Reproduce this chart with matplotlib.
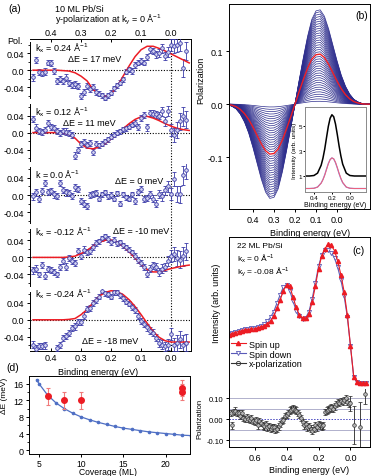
import matplotlib.pyplot as plt
import numpy as np

plt.rcParams['font.family'] = ['Liberation Sans', 'DejaVu Sans']
plt.rcParams['mathtext.default'] = 'regular'
plt.rcParams['font.size'] = 6.5
plt.rcParams['axes.linewidth'] = 0.7
for a in ('xtick', 'ytick'):
    plt.rcParams[a + '.major.width'] = 0.7
    plt.rcParams[a + '.minor.width'] = 0.6
    plt.rcParams[a + '.major.size'] = 2.5
    plt.rcParams[a + '.minor.size'] = 1.3
    plt.rcParams[a + '.major.pad'] = 1.5
    plt.rcParams[a + '.labelsize'] = 6.5

# ---------------- data ----------------
# (a) y-polarization, 10 ML Pb/Si, five k_x cuts
be_a = np.round(np.arange(0.46, -0.055, -0.01), 2)
pol_a1 = [-0.017, 0.024, -0.005, -0.007, -0.004, 0.018, 0.016, -0.002, -0.025, -0.020,
          -0.025, -0.018, -0.029, -0.035, -0.033, -0.038, -0.060, -0.051, -0.038, -0.045,
          -0.040, -0.051, -0.055, -0.059, -0.064, -0.059, -0.053, -0.042, -0.035, -0.029,
          -0.021, -0.004, 0.002, -0.002, 0.013, 0.018, 0.022, 0.018, 0.031, 0.049,
          0.045, 0.037, 0.041, 0.051, 0.033, 0.042, 0.060, 0.056, 0.060, 0.064,
          0.005, 0.045]
pol_a2 = [0.032, 0.011, 0.004, 0.002, 0.006, 0.022, 0.014, 0.010, 0.003, -0.002,
          0.004, 0.002, -0.002, -0.006, -0.054, -0.040, -0.026, -0.022, -0.030, -0.024,
          -0.046, -0.026, -0.030, -0.026, -0.020, -0.016, -0.010, -0.005, 0.000, 0.003,
          0.008, 0.010, 0.014, 0.018, 0.022, 0.014, 0.034, 0.042, 0.012, 0.046,
          0.044, 0.043, 0.040, 0.050, 0.026, 0.050, 0.006, -0.006, 0.006, 0.026,
          0.038, 0.030]
pol_a3 = [-0.003, 0.006, -0.009, 0.010, 0.028, 0.006, 0.009, 0.002, -0.003, 0.028,
          0.012, 0.006, 0.004, -0.003, 0.018, 0.015, -0.014, -0.020, -0.025, 0.000,
          0.002, 0.004, -0.009, 0.002, 0.006, -0.003, 0.000, -0.009, 0.004, -0.020,
          0.002, -0.005, -0.009, 0.002, -0.014, 0.006, 0.015, -0.009, -0.007, 0.002,
          -0.009, -0.020, 0.002, -0.003, 0.011, 0.020, 0.002, 0.037, 0.002, 0.002,
          0.046, 0.058]
pol_a4 = [-0.030, -0.026, -0.040, -0.018, -0.043, -0.026, -0.030, -0.034, -0.040, -0.022,
          -0.009, -0.022, -0.001, -0.009, -0.013, 0.016, 0.003, 0.018, 0.012, 0.016,
          0.024, 0.033, 0.038, 0.045, 0.049, 0.043, 0.035, 0.041, 0.033, 0.035,
          0.028, 0.024, 0.018, 0.012, 0.003, -0.005, -0.013, -0.022, -0.038, -0.026,
          -0.018, -0.022, -0.034, -0.026, -0.022, -0.009, 0.003, 0.008, -0.001, -0.005,
          0.003, 0.014]
pol_a5 = [-0.058, -0.068, -0.062, -0.062, -0.060, np.nan, np.nan, np.nan, -0.066, -0.058,
          -0.042, -0.038, -0.030, -0.020, -0.015, -0.004, -0.006, 0.010, 0.026, 0.028,
          0.040, 0.046, 0.054, 0.068, 0.062, 0.060, 0.054, 0.064, 0.064, 0.057,
          0.050, 0.042, 0.038, 0.030, 0.022, 0.010, -0.002, -0.010, -0.018, -0.026,
          -0.030, -0.042, -0.054, -0.058, -0.062, -0.058, -0.034, -0.058, -0.054, -0.046,
          -0.058, -0.054]
err_a = [0.008, 0.008, 0.007, 0.007, 0.008, 0.007, 0.007, 0.008, 0.007, 0.007,
         0.007, 0.008, 0.007, 0.007, 0.008, 0.007, 0.007, 0.008, 0.007, 0.007,
         0.007, 0.007, 0.006, 0.006, 0.006, 0.006, 0.006, 0.006, 0.006, 0.006,
         0.006, 0.006, 0.006, 0.006, 0.007, 0.007, 0.007, 0.007, 0.008, 0.008,
         0.008, 0.008, 0.009, 0.010, 0.010, 0.012, 0.014, 0.016, 0.018, 0.020,
         0.022, 0.020]
fit_be = np.round(np.arange(0.46, -0.065, -0.02), 2)
fit_a1 = [0, 0, 0, 0, 0, -0.001, -0.002, -0.006, -0.014, -0.025, -0.045, -0.057, -0.062,
          -0.055, -0.038, -0.014, 0.010, 0.032, 0.048, 0.056, 0.056, 0.051, 0.045, 0.038,
          0.031, 0.024, 0.017]
fit_a2 = [0, 0, 0, 0, 0, -0.001, -0.004, -0.013, -0.027, -0.036, -0.038, -0.034, -0.026,
          -0.015, -0.003, 0.009, 0.021, 0.031, 0.037, 0.038, 0.034, 0.028, 0.021, 0.015,
          0.010, 0.007, 0.005]
fit_a4 = [0, 0, 0, 0, 0, 0, 0.001, 0.003, 0.009, 0.016, 0.027, 0.035, 0.040, 0.041, 0.036,
          0.026, 0.013, -0.002, -0.017, -0.028, -0.034, -0.034, -0.030, -0.026, -0.023,
          -0.020, -0.018]
fit_a5 = [0, 0, 0, 0, 0, 0, 0.001, 0.003, 0.012, 0.024, 0.040, 0.055, 0.064, 0.068, 0.066,
          0.059, 0.047, 0.031, 0.012, -0.008, -0.027, -0.041, -0.049, -0.052, -0.052,
          -0.052, -0.052]
k_labels = ['k$_x$ = 0.24 Å$^{-1}$', 'k$_x$ = 0.12 Å$^{-1}$', 'k = 0.0 Å$^{-1}$',
            'k$_x$ = -0.12 Å$^{-1}$', 'k$_x$ = -0.24 Å$^{-1}$']
de_labels = ['ΔE = 17 meV', 'ΔE = 11 meV', 'ΔE = 0 meV', 'ΔE = -10 meV', 'ΔE = -18 meV']

# (b) model polarization curves
be_b = np.round(np.arange(0.56, -0.205, -0.02), 2)
pol_b_outer = [0, 0, -0.001, -0.004, -0.009, -0.019, -0.034, -0.055, -0.082, -0.112,
               -0.142, -0.166, -0.178, -0.176, -0.160, -0.128, -0.088, -0.045, 0.0,
               0.045, 0.088, 0.128, 0.160, 0.176, 0.178, 0.166, 0.142, 0.112, 0.082,
               0.055, 0.034, 0.019, 0.009, 0.004, 0.001, 0, 0, 0, 0]
scales_b = [0.03, 0.055, 0.08, 0.105, 0.13, 0.155, 0.18, 0.205, 0.23, 0.255, 0.28,
            0.305, 0.33, 0.355, 0.38, 0.405, 0.43, 0.455, 0.48, 0.505, 0.555, 0.58,
            0.605, 0.63, 0.655, 0.68, 0.705, 0.73, 0.755, 0.78, 0.805, 0.83, 0.855,
            0.88, 0.905, 0.93, 0.955, 0.98, 1.0]
scale_red = 0.53
be_in = [0.50, 0.45, 0.40, 0.36, 0.32, 0.30, 0.28, 0.26, 0.24, 0.22, 0.20, 0.18, 0.16,
         0.14, 0.12, 0.10, 0.08, 0.04, 0.0, -0.05, -0.10, -0.18]
up_in = [0, 0.001, 0.018, 0.11, 0.42, 0.70, 1.06, 1.52, 1.97, 2.30, 2.45, 2.38, 2.10,
         1.68, 1.22, 0.82, 0.49, 0.12, 0.02, 0, 0, 0]
dn_in = [0, 0.001, 0.02, 0.12, 0.44, 0.72, 1.10, 1.56, 2.00, 2.32, 2.45, 2.36, 2.06,
         1.64, 1.18, 0.78, 0.46, 0.11, 0.02, 0, 0, 0]
tot_in = [1.0, 1.0, 1.04, 1.23, 1.86, 2.42, 3.16, 4.08, 4.97, 5.62, 5.90, 5.74, 5.16,
          4.32, 3.40, 2.60, 1.95, 1.23, 1.04, 1.0, 1.0, 1.0]

# (c) 22 ML Pb/Si spin-resolved spectra
be_c = np.round(np.arange(0.76, -0.105, -0.02), 2)
up_c = [0.535, 0.540, 0.545, 0.550, 0.553, 0.556, 0.558, 0.560, 0.563, 0.566,
        0.570, 0.576, 0.586, 0.600, 0.625, 0.660, 0.700, 0.745, 0.772, 0.765,
        0.715, 0.665, 0.630, 0.613, 0.612, 0.635, 0.690, 0.765, 0.850, 0.910,
        0.945, 0.965, 0.960, 0.935, 0.885, 0.820, 0.740, 0.630, 0.480, 0.335,
        0.310, 0.305, 0.303, 0.303]
dn_c = [0.540, 0.545, 0.548, 0.552, 0.556, 0.560, 0.562, 0.565, 0.568, 0.572,
        0.578, 0.588, 0.600, 0.618, 0.645, 0.685, 0.725, 0.762, 0.770, 0.745,
        0.695, 0.650, 0.622, 0.610, 0.615, 0.645, 0.705, 0.780, 0.860, 0.915,
        0.940, 0.940, 0.925, 0.900, 0.855, 0.795, 0.720, 0.620, 0.480, 0.335,
        0.310, 0.305, 0.303, 0.303]
be_pol = np.round(np.arange(0.75, 0.005, -0.01), 2)
pol_x = [0.030, -0.030, 0.035, 0.040, 0.030, 0.028, 0.015, 0.030, 0.005, 0.000,
         0.010, 0.000, -0.005, 0.005, -0.008, -0.015, -0.005, -0.030, -0.010, -0.020,
         -0.030, -0.035, -0.025, -0.040, -0.035, -0.045, -0.040, -0.040, -0.050, -0.045,
         -0.035, -0.025, -0.010, -0.005, 0.015, 0.020, 0.030, 0.040, 0.045, 0.050,
         0.045, 0.040, 0.030, 0.020, 0.005, -0.015, -0.030, -0.025, -0.040, -0.035,
         -0.045, -0.055, -0.045, -0.030, -0.040, -0.025, -0.030, -0.035, -0.030, 0.032,
         0.040, 0.045, 0.050, 0.055, 0.050, 0.060, 0.070, 0.080, 0.075, 0.085,
         0.080, 0.090, 0.100, 0.080, 0.070]
be_pol2 = [0.0, -0.02, -0.06, -0.09]
pol_x2 = [0.075, -0.030, -0.040, 0.120]
err_x2 = [0.035, 0.09, 0.12, 0.05]

# (d) Delta E vs coverage
cov_th = [4.7, 5, 6, 7, 8, 9, 10, 11, 12, 13, 14, 15, 16, 17, 18, 19, 20, 21, 22, 23]
de_th = [17.0, 16.0, 13.3, 11.4, 10.0, 8.9, 8.0, 7.3, 6.7, 6.2, 5.7, 5.3, 5.0, 4.7,
         4.4, 4.2, 4.0, 3.8, 3.6, 3.5]
cov_exp = [6, 8, 10, 22, 22]
de_exp = [13.0, 12.0, 12.0, 14.0, 15.0]
de_err = [2.0, 2.1, 2.1, 2.0, 2.0]

# ---------------- figure ----------------
W, H = 374, 477
fig = plt.figure(figsize=(W / 100, H / 100), dpi=100)


def box(x0, y0, x1, y1):
    return [x0 / W, 1 - y1 / H, (x1 - x0) / W, (y1 - y0) / H]


def ftext(x, y, s, **kw):
    fig.text(x / W, 1 - y / H, s, va='center', **kw)


red = '#ec1c24'
blue_a = '#3a3aa8'

# ---- (a) ----
axf = fig.add_axes(box(30, 40, 191, 352))
axf.set_xlim(0.47, -0.066)
axf.set_ylim(0, 1)
axf.spines['left'].set_visible(False)
axf.set_yticks([])
axf.set_xticks([0.4, 0.3, 0.2, 0.1, 0.0])
axf.set_xticklabels(['0.4', '0.3', '0.2', '0.1', '0.0'])
axf.tick_params(axis='x', top=True, labeltop=True, direction='in', pad=1.2)
axf.axvline(0, color='k', ls=(0, (1, 1.5)), lw=0.8)
axf.set_xlabel('Binding energy (eV)')
axf.xaxis.set_label_coords(0.42, -0.05)

pols = [pol_a1, pol_a2, pol_a3, pol_a4, pol_a5]
fits = [fit_a1, fit_a2, None, fit_a4, fit_a5]
kpos = [48, 112, 174, 232, 294]
depos = [(68, 60), (63, 124), (115, 182), (113, 232), (82, 342)]
for i in range(5):
    top = 40 + 62.4 * i
    ax = fig.add_axes(box(30, top, 191, top + 62.4))
    ax.set_facecolor('none')
    ax.set_xlim(0.47, -0.066)
    ax.set_ylim(-0.073, 0.073)
    for s in ('top', 'right', 'bottom'):
        ax.spines[s].set_visible(False)
    ax.spines['left'].set_bounds(-0.066, 0.066)
    ax.set_xticks([])
    ax.set_yticks([-0.04, 0.0, 0.04])
    ax.set_yticklabels(['-0.04', '0.0', '0.04'])
    ax.set_yticks([-0.06, -0.02, 0.02, 0.06], minor=True)
    ax.axhline(0, color='k', ls=(0, (1, 1.5)), lw=0.8)
    ax.errorbar(be_a, pols[i], yerr=err_a, fmt='o', ms=2.6, mfc='#d6d6f2', mec=blue_a,
                mew=0.6, ecolor=blue_a, elinewidth=0.6, capsize=1.2, capthick=0.6)
    if fits[i] is not None:
        ax.plot(fit_be, fits[i], color=red, lw=1.1)
    ftext(35, kpos[i], k_labels[i])
    ftext(depos[i][0], depos[i][1], de_labels[i])

ftext(7, 42, 'Pol.')
ftext(8, 9, '(a)', fontsize=7.5)
ftext(55, 9, '10 ML Pb/Si')
ftext(55, 20, 'y-polarization at k$_y$ = 0 Å$^{-1}$')

# ---- (b) ----
axb = fig.add_axes(box(229, 5, 370, 210))
shape = np.array(pol_b_outer)
for s in scales_b:
    axb.plot(be_b, s * shape, color='#2c2c8c', lw=0.5)
axb.plot(be_b, scale_red * shape, color=red, lw=1.0)
axb.set_xlim(0.514, -0.157)
axb.set_ylim(-0.198, 0.189)
axb.set_yticks([-0.1, 0.0, 0.1])
axb.set_yticklabels(['-0.1', '0.0', '0.1'])
axb.set_xticks([0.4, 0.3, 0.2, 0.1, 0.0])
axb.set_xticklabels(['0.4', '0.3', '0.2', '0.1', '0.0'])
axb.set_ylabel('Polarization')
axb.yaxis.set_label_coords(-0.17, 0.63)
axb.set_xlabel('Binding energy (eV)')
axb.xaxis.set_label_coords(0.574, -0.093)
ftext(355, 16, '(b)', fontsize=7.5)

axi = fig.add_axes(box(305, 108, 366, 193))
axi.plot(be_in, dn_in, color='#8c8ce0', lw=0.9)
axi.plot(be_in, up_in, color='#f0607a', lw=0.7)
axi.plot(be_in, tot_in, color='k', lw=1.1)
axi.set_xlim(0.5, -0.18)
axi.set_ylim(-0.28, 6.52)
for s in axi.spines.values():
    s.set_color('#8a8a8a')
axi.set_yticks([1, 3, 5])
axi.set_xticks([0.4, 0.2, 0.0])
axi.set_xticklabels(['0.4', '0.2', '0.0'])
axi.tick_params(labelsize=4.5, length=1.5, pad=0.8)
axi.set_xlabel('Binding energy (eV)', fontsize=5, labelpad=0.5)
axi.set_ylabel('Intensity (arb. units)', fontsize=4.6, labelpad=1)

# ---- (c) ----
axc = fig.add_axes(box(229, 238, 370, 448))
axc.plot(be_c, dn_c, color='#5a5ab8', lw=0.8, marker='v', ms=3, mfc='white',
         mec='#5a5ab8', mew=0.6, label='Spin down')
axc.plot(be_c, up_c, color=red, lw=0.8, marker='^', ms=3, mfc=red, mec=red,
         label='Spin up')
axc.set_xlim(0.76, -0.122)
axc.set_ylim(0, 1)
axc.set_yticks([])
axc.set_xticks([0.6, 0.4, 0.2, 0.0])
axc.set_xticklabels(['0.6', '0.4', '0.2', '0.0'])
axc.set_xlabel('Binding energy (eV)')
axc.xaxis.set_label_coords(0.567, -0.088)
axc.set_ylabel('Intensity (arb. units)')
axc.yaxis.set_label_coords(-0.06, 0.69)
h_dn, h_up = axc.get_lines()
h_x, = axc.plot([], [], color='#333333', lw=0.8, marker='o', ms=3, mfc='none',
                mec='#333333', mew=0.6)
axc.legend([h_up, h_dn, h_x], ['Spin up', 'Spin down', 'x-polarization'],
           loc='upper left', bbox_to_anchor=(0.0, 0.52), frameon=False, fontsize=6.5,
           handlelength=1.7, handletextpad=0.3, labelspacing=0.1, borderaxespad=0.2,
           borderpad=0)
ftext(237, 247, '22 ML Pb/Si', fontsize=6)
ftext(237, 259, 'k$_x$ = 0 Å$^{-1}$', fontsize=6)
ftext(237, 271.5, 'k$_y$ = -0.08 Å$^{-1}$', fontsize=6)
ftext(352, 251, '(c)', fontsize=7.5)

axp = fig.add_axes(box(229, 390, 370, 448))
axp.set_facecolor('none')
for s in ('top', 'right', 'bottom'):
    axp.spines[s].set_visible(False)
axp.set_xlim(0.76, -0.122)
axp.set_ylim(-0.133, 0.143)
axp.set_xticks([])
axp.set_yticks([-0.1, 0.0, 0.1])
axp.set_yticklabels(['-0.10', '0.00', '0.10'])
axp.tick_params(labelsize=5.5)
for yl in (-0.1, -0.05, 0.05, 0.1):
    axp.axhline(yl, color='#a4a4c4', lw=0.6)
axp.axhline(0, color='#4646c0', lw=0.7, ls=(0, (1.5, 1.5)))
axp.errorbar(be_pol, pol_x, yerr=0.015, fmt='o', ms=2.6, mfc='#b8b8b8', mec='#333333',
             mew=0.5, ecolor='#222222', elinewidth=0.6, capsize=1.2, capthick=0.6)
axp.errorbar(be_pol2, pol_x2, yerr=err_x2, fmt='o', ms=2.6, mfc='#b8b8b8',
             mec='#333333', mew=0.5, ecolor='#222222', elinewidth=0.6, capsize=1.2,
             capthick=0.6)
axp.set_ylabel('Polarization', fontsize=5.5)
axp.yaxis.set_label_coords(-0.18, 0.5)

# ---- (d) ----
axd = fig.add_axes(box(29, 377, 190, 455))
axd.plot(cov_th, de_th, color='#4f6fc4', lw=0.9, marker='o', ms=1.6)
axd.errorbar(cov_exp, de_exp, yerr=de_err, fmt='o', ms=4, color=red, ecolor='#f07a7a',
             elinewidth=0.8, capsize=1.5, capthick=0.8)
axd.set_xlim(3.8, 22.9)
axd.set_ylim(-0.95, 17.9)
axd.set_xticks([5, 10, 15, 20])
axd.set_yticks([0, 4, 8, 12, 16])
axd.set_yticks([2, 6, 10, 14], minor=True)
axd.tick_params(axis='x', pad=0.8, labelsize=6.2)
axd.set_xlabel('Coverage (ML)', fontsize=6.2)
axd.xaxis.set_label_coords(0.49, -0.165)
axd.set_ylabel('ΔE (meV)', fontsize=6)
axd.yaxis.set_label_coords(-0.13, 0.76)
ftext(6, 368, '(d)', fontsize=7.5)

fig.savefig('out.png', dpi=100)
